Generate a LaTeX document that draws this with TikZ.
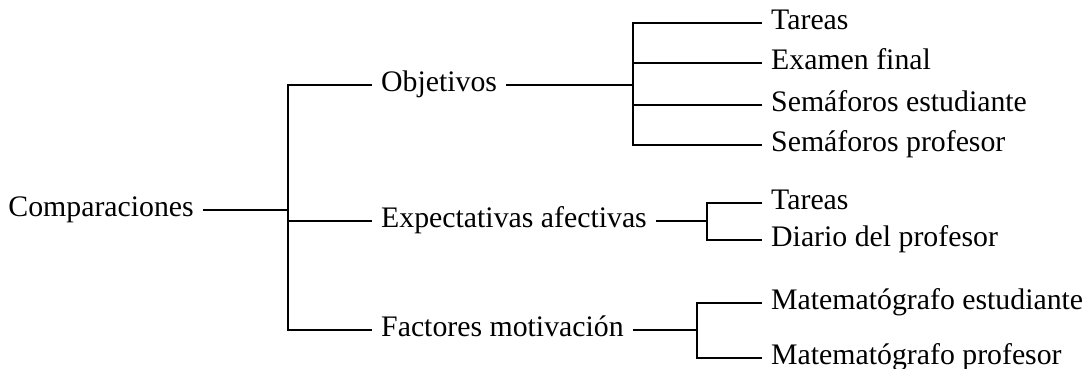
\documentclass[tikz,border=0pt]{standalone}
\usepackage{fontspec}
\setmainfont{Liberation Serif}
\usetikzlibrary{calc}
\tikzset{lbl/.style={font=\fontsize{14.9}{17}\selectfont,inner xsep=4pt,inner ysep=0pt,text height=.66em,text depth=0pt}}

\begin{document}
\begin{tikzpicture}[x=0.5pt,y=-0.5pt,line width=1.2pt]
	\useasboundingbox (0,0) rectangle (1084,369);
	% junctions
	\coordinate (jm) at (288,210);
	\coordinate (jo) at (633,85);
	\coordinate (jx) at (707,221);
	\coordinate (jf) at (697,330);
	% nodes
	\node[lbl,anchor=east] (comp) at (203,210) {Comparaciones};
	\node[lbl,anchor=west] (obj) at (372,85) {Objetivos};
	\node[lbl,anchor=west] (exp) at (372,221) {Expectativas afectivas};
	\node[lbl,anchor=west] (fac) at (372,330) {Factores motivación};
	\node[lbl,anchor=west] (o1) at (762,23) {Tareas};
	\node[lbl,anchor=west] (o2) at (762,63) {Examen final};
	\node[lbl,anchor=west] (o3) at (762,105) {Semáforos estudiante};
	\node[lbl,anchor=west] (o4) at (762,145) {Semáforos profesor};
	\node[lbl,anchor=west] (x1) at (762,203) {Tareas};
	\node[lbl,anchor=west] (x2) at (762,240) {Diario del profesor};
	\node[lbl,anchor=west] (f1) at (762,303) {Matematógrafo estudiante};
	\node[lbl,anchor=west] (f2) at (762,358) {Matematógrafo profesor};
	% connectors
	\draw (comp) -- (jm);
	\draw (obj.west) -| (jm) |- (fac.west);
	\draw (exp.west) -- (exp.west -| jm);
	\draw (obj) -- (jo);
	\draw (o1.west) -| (jo) |- (o4.west);
	\draw (o2.west) -- (o2.west -| jo);
	\draw (o3.west) -- (o3.west -| jo);
	\draw (exp) -- (jx);
	\draw (x1.west) -| (jx) |- (x2.west);
	\draw (fac) -- (jf);
	\draw (f1.west) -| (jf) |- (f2.west);
\end{tikzpicture}
\end{document}
